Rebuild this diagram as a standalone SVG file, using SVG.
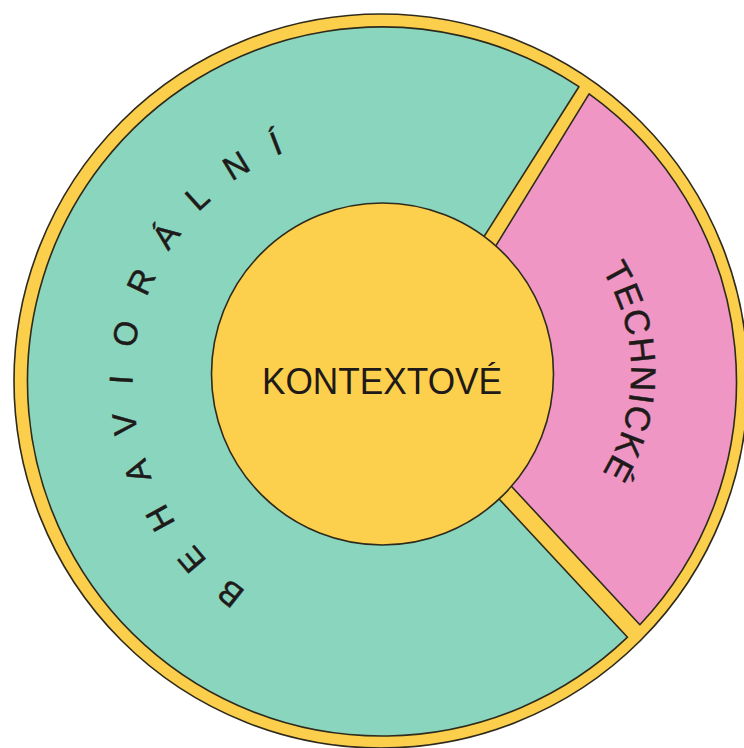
<svg xmlns="http://www.w3.org/2000/svg" width="744" height="748" viewBox="0 0 744 748">
  <style>
    .edge { stroke: #2e2a1c; stroke-width: 1.6; stroke-linejoin: round; }
    .ring { fill: #fbcf4b; }
    .teal { fill: #8ad5bd; }
    .pink { fill: #f096c4; }
    .core { fill: #fccf4c; }
    .lbl { font-family: "Liberation Sans", Arial, sans-serif; fill: #1e1a1a; }
    .arc { stroke: #1e1a1a; stroke-width: 0.5; }
  </style>
  <defs>
    <path id="arcBeh" d="M 296.8 615.5 A 249 249 0 0 1 338.8 136.3"/>
    <path id="arcTech" d="M 574.5 235.5 A 193 193 0 0 1 574.5 508.5"/>
  </defs>
  <rect width="744" height="748" fill="#ffffff"/>
  <g id="outer-ring">
    <circle class="ring edge" cx="381" cy="381" r="367"/>
  </g>
  <g id="behavioralni">
    <path class="teal edge" d="M 463.6 268.8 L 578.9 86.7 A 354.5 354.5 0 1 0 627.5 637.2 L 472.8 470.7 Z"/>
    <text class="lbl arc" font-size="33" letter-spacing="27" text-anchor="middle">
      <textPath href="#arcBeh" startOffset="52%">BEHAVIORÁLNÍ</textPath>
    </text>
  </g>
  <g id="technicke">
    <path class="pink edge" d="M 477.4 275.8 L 589.1 93.8 A 354.5 354.5 0 0 1 639.9 624.7 L 486.1 459 Z"/>
    <text class="lbl arc" font-size="35" letter-spacing="1.5" text-anchor="middle">
      <textPath href="#arcTech" startOffset="50%">TECHNICKÉ</textPath>
    </text>
  </g>
  <g id="kontextove">
    <circle class="core edge" cx="382.5" cy="374" r="171"/>
    <text class="lbl" x="382" y="394" font-size="36" text-anchor="middle" textLength="240" lengthAdjust="spacingAndGlyphs">KONTEXTOVÉ</text>
  </g>
</svg>
